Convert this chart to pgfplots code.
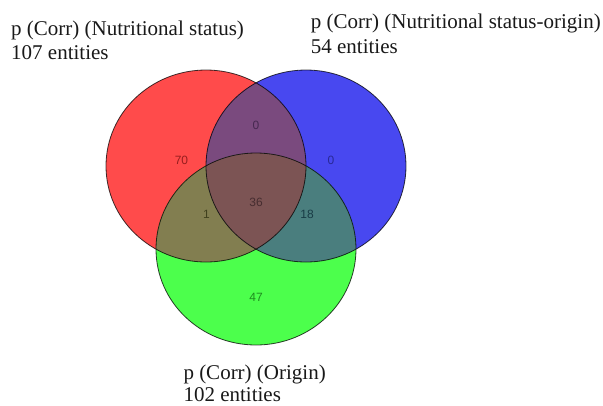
\documentclass[border=0pt]{standalone}
\usepackage{fontspec}
\setmainfont{Liberation Serif}
\newfontfamily\numfont{Liberation Sans}
\usepackage{pgfplots}
\pgfplotsset{compat=1.18}
\usepackage{pgfplotstable}

% region fills
\definecolor{cR}{RGB}{255,75,75}
\definecolor{cB}{RGB}{72,72,240}
\definecolor{cG}{RGB}{76,255,76}
\definecolor{cRB}{RGB}{122,74,126}
\definecolor{cRG}{RGB}{130,126,80}
\definecolor{cBG}{RGB}{74,126,126}
\definecolor{cRBG}{RGB}{124,84,84}
% count colours
\definecolor{tR}{RGB}{150,30,30}
\definecolor{tB}{RGB}{40,40,150}
\definecolor{tG}{RGB}{30,140,30}
\definecolor{tRB}{RGB}{70,40,80}
\definecolor{tRG}{RGB}{65,65,30}
\definecolor{tBG}{RGB}{25,60,70}
\definecolor{tRBG}{RGB}{70,45,48}

% one venn set: ellipse rx=100, ry=96 (px = pt here)
\def\venn#1#2{\pgfpathellipse{\pgfpoint{#1}{#2}}{\pgfpoint{100pt}{0pt}}{\pgfpoint{0pt}{96pt}}}
% marks placed at the red/blue midpoint: red at (-50,0), blue at (50,0), green at (0,-83)
\pgfdeclareplotmark{disc}{\venn{0pt}{0pt}\pgfusepathqfill}
\pgfdeclareplotmark{ring}{\venn{0pt}{0pt}\pgfusepathqstroke}
\pgfdeclareplotmark{rb}{\pgfscope\venn{-50pt}{0pt}\pgfusepath{clip}\venn{50pt}{0pt}\pgfusepathqfill\endpgfscope}
\pgfdeclareplotmark{rg}{\pgfscope\venn{-50pt}{0pt}\pgfusepath{clip}\venn{0pt}{-83pt}\pgfusepathqfill\endpgfscope}
\pgfdeclareplotmark{bg}{\pgfscope\venn{50pt}{0pt}\pgfusepath{clip}\venn{0pt}{-83pt}\pgfusepathqfill\endpgfscope}
\pgfdeclareplotmark{rbg}{\pgfscope\venn{-50pt}{0pt}\pgfusepath{clip}\venn{50pt}{0pt}\pgfusepath{clip}\venn{0pt}{-83pt}\pgfusepathqfill\endpgfscope}

% set centres (image px, y down)
\pgfplotstableread{
x y
206 166
}\setR
\pgfplotstableread{
x y
306 166
}\setB
\pgfplotstableread{
x y
256 249
}\setG
\pgfplotstableread{
x y
256 166
}\mid

\pgfplotsset{
    count/.style={only marks, mark=none,
        point meta=explicit symbolic, nodes near coords,
        every node near coord/.append style={anchor=center, inner sep=0pt,
            text=#1, font=\numfont\fontsize{12}{12}\selectfont}},
    ringstyle/.style={only marks, mark=ring,
        mark options={draw=black, draw opacity=0.75, line width=0.8pt}},
}

\begin{document}
\begin{tikzpicture}
\begin{axis}[
    hide axis,
    x=1pt, y=1pt,
    xmin=0, xmax=603,
    ymin=0, ymax=405,
    y dir=reverse,
    clip=false,
]
\addplot[draw=none, forget plot] coordinates {(0,0) (603,405)};

% full sets
\addplot[only marks, mark=disc, mark options={fill=cR, draw=none}] table {\setR};
\addplot[only marks, mark=disc, mark options={fill=cB, draw=none}] table {\setB};
\addplot[only marks, mark=disc, mark options={fill=cG, draw=none}] table {\setG};
% overlaps
\addplot[only marks, mark=rb, mark options={fill=cRB, draw=none}] table {\mid};
\addplot[only marks, mark=rg, mark options={fill=cRG, draw=none}] table {\mid};
\addplot[only marks, mark=bg, mark options={fill=cBG, draw=none}] table {\mid};
\addplot[only marks, mark=rbg, mark options={fill=cRBG, draw=none}] table {\mid};
% outlines
\addplot[ringstyle] table {\setR};
\addplot[ringstyle] table {\setB};
\addplot[ringstyle] table {\setG};

% region counts
\addplot[count=tR] coordinates {(181.5,160.7) [70]};
\addplot[count=tRB] coordinates {(256,125) [0]};
\addplot[count=tB] coordinates {(331,160.7) [0]};
\addplot[count=tRBG] coordinates {(256,202) [36]};
\addplot[count=tRG] coordinates {(206.5,214) [1]};
\addplot[count=tBG] coordinates {(307,214) [18]};
\addplot[count=tG] coordinates {(256,297) [47]};

% set titles
\begin{scope}[every node/.style={anchor=base west, inner sep=0pt,
    text=black!90, font=\fontsize{21}{24}\selectfont}]
\node at (axis cs:11,35) {p (Corr) (Nutritional status)};
\node at (axis cs:11,59.3) {107 entities};
\node at (axis cs:310.7,28.3) {p (Corr) (Nutritional status-origin)};
\node at (axis cs:310.7,53.3) {54 entities};
\node at (axis cs:183.3,379) {p (Corr) (Origin)};
\node at (axis cs:183.3,401.5) {102 entities};
\end{scope}
\end{axis}
\end{tikzpicture}
\end{document}
